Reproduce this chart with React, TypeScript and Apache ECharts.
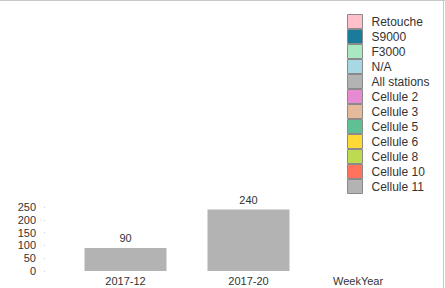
import React, { useEffect, useRef } from "react";
import * as echarts from "echarts";

const categories = ["2017-12", "2017-20"];
const seriesNames = [
  "Retouche",
  "S9000",
  "F3000",
  "N/A",
  "All stations",
  "Cellule 2",
  "Cellule 3",
  "Cellule 5",
  "Cellule 6",
  "Cellule 8",
  "Cellule 10",
  "Cellule 11",
];
const seriesColors = [
  "#ffc0cb",
  "#1b7b9b",
  "#aae8c2",
  "#a7d8e4",
  "#b3b3b3",
  "#e68ad2",
  "#e4ba9b",
  "#5fc093",
  "#ffd935",
  "#bdda50",
  "#ff725e",
  "#b3b3b3",
];
const allStationsValues = [90, 240];
const yTicks = { min: 0, max: 250, interval: 50 };

export default function App() {
  const ref = useRef<HTMLDivElement>(null);
  useEffect(() => {
    document.body.style.margin = "0";
    if (!ref.current) return;
    const chart = echarts.init(ref.current, undefined, { renderer: "svg" });
    const font = "Liberation Sans";
    const series = seriesNames.map((name, i) => ({
      name,
      type: "bar" as const,
      stack: "total",
      barWidth: 82,
      itemStyle: { color: seriesColors[i] },
      data: name === "All stations" ? allStationsValues : categories.map(() => null),
      label:
        name === "All stations"
          ? {
              show: true,
              position: "top" as const,
              distance: 4,
              fontSize: 11,
              fontFamily: font,
              color: "#333",
            }
          : { show: false },
    }));
    chart.setOption({
      animation: false,
      textStyle: { fontFamily: font },
      grid: { left: 64, right: 135, top: 207, bottom: 17 },
      legend: {
        orient: "vertical",
        left: 347,
        top: 14,
        padding: 0,
        itemWidth: 15,
        itemHeight: 14,
        itemGap: 0,
        icon: "rect",
        align: "left",
        itemStyle: { borderColor: "#8a8a8a", borderWidth: 1 },
        textStyle: {
          fontSize: 12,
          lineHeight: 14,
          fontFamily: font,
          color: "#333",
          padding: [0, 0, 0, 4],
        },
        data: seriesNames,
      },
      xAxis: {
        type: "category",
        data: categories,
        name: "WeekYear",
        nameLocation: "end",
        nameGap: 23,
        nameTextStyle: {
          fontSize: 11,
          fontFamily: font,
          color: "#333",
          verticalAlign: "top",
          padding: [4, 0, 0, 0],
        },
        axisLine: { show: false },
        axisTick: { show: false },
        axisLabel: { fontSize: 11, color: "#333", margin: 4, fontFamily: font },
      },
      yAxis: {
        type: "value",
        min: yTicks.min,
        max: yTicks.max,
        interval: yTicks.interval,
        offset: 19,
        axisLine: { show: false },
        axisTick: { show: true, length: 1, lineStyle: { color: "#cccccc" } },
        splitLine: { show: false },
        axisLabel: { fontSize: 11, color: "#333", margin: 9, fontFamily: font },
      },
      graphic: [
        {
          type: "line",
          shape: { x1: 0, y1: 0.5, x2: 445, y2: 0.5 },
          style: { stroke: "#c8c8c8", lineWidth: 1 },
        },
        {
          type: "line",
          shape: { x1: 443.5, y1: 0, x2: 443.5, y2: 288 },
          style: { stroke: "#c8c8c8", lineWidth: 1 },
        },
      ],
      series,
    });
    return () => chart.dispose();
  }, []);
  return <div ref={ref} style={{ width: 445, height: 288 }} />;
}
